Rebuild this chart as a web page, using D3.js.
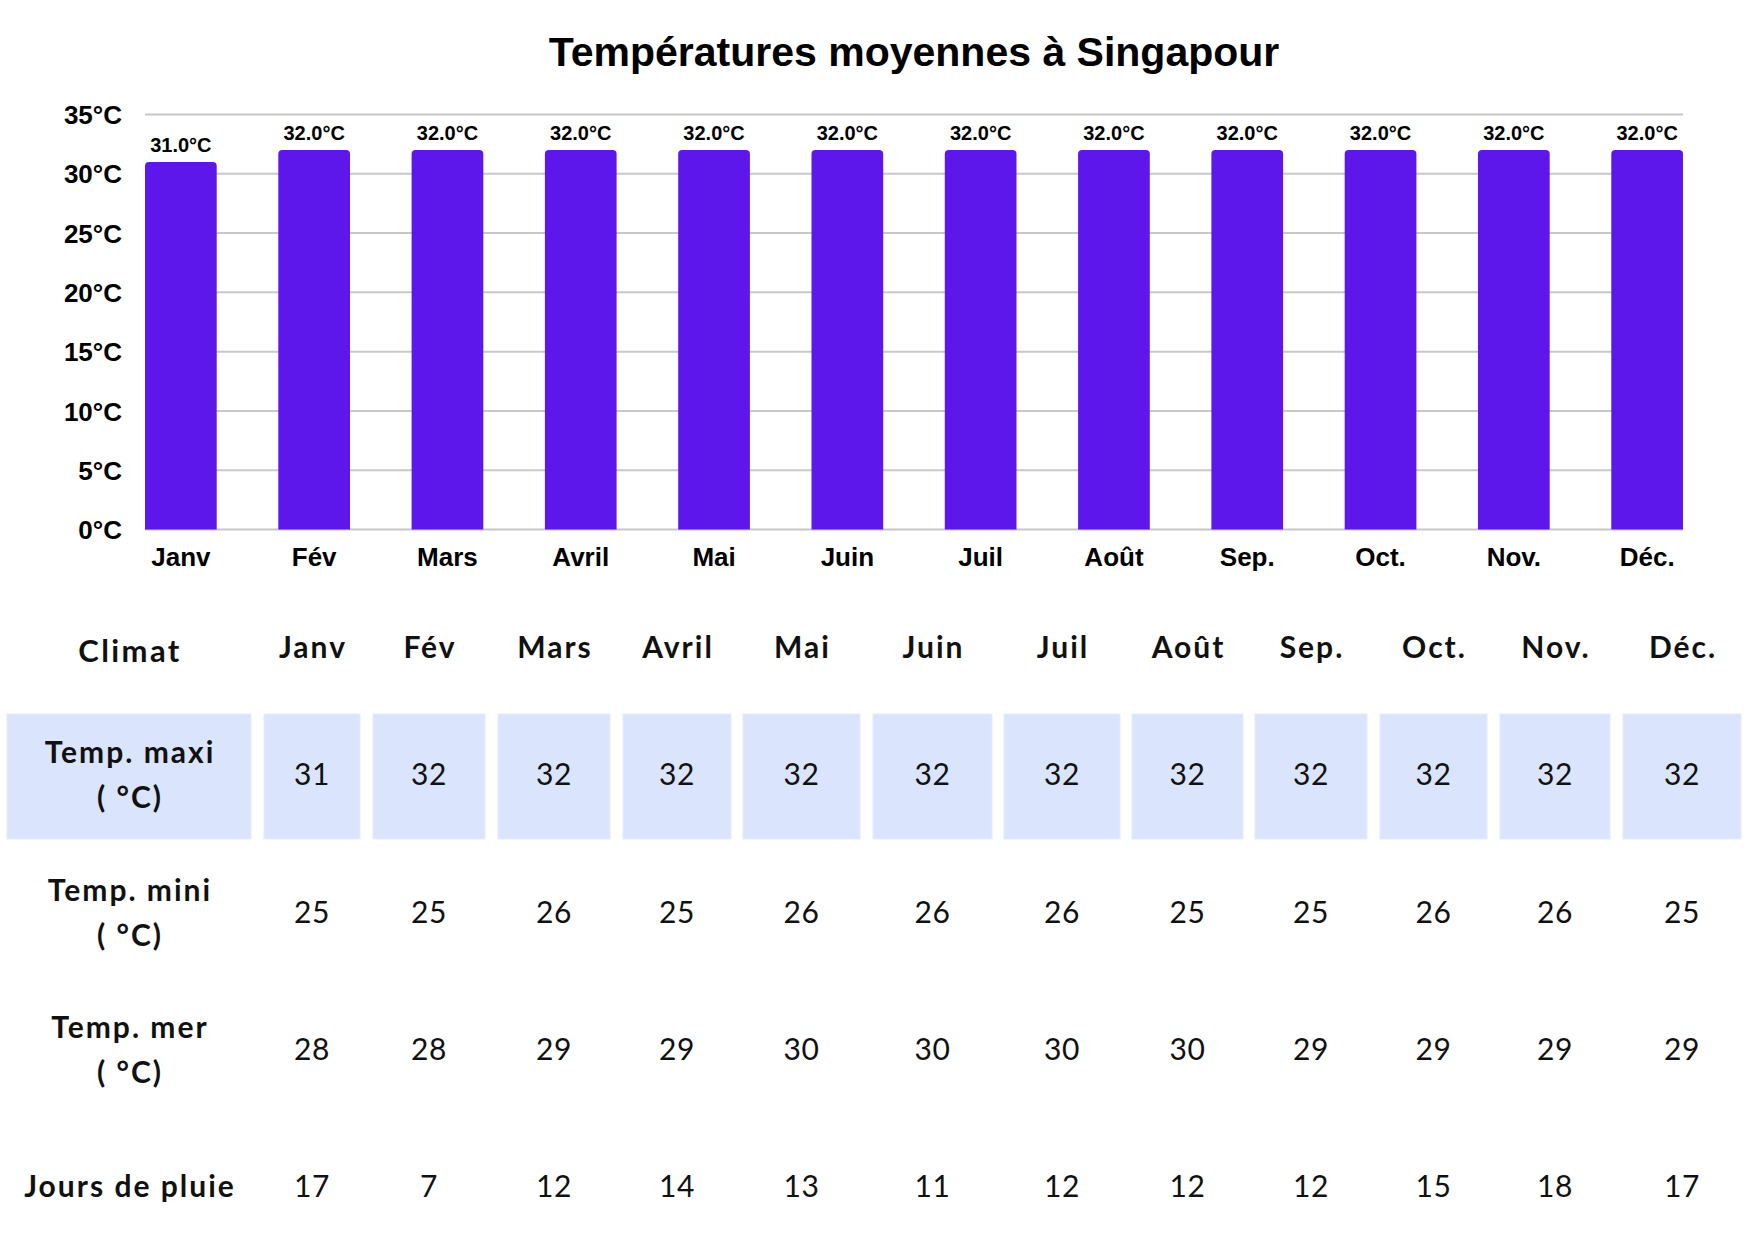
<!DOCTYPE html>
<html><head><meta charset="utf-8">
<script src="https://cdn.jsdelivr.net/npm/d3@7"></script>
<style>body{margin:0;background:#fff}svg{display:block}</style>
</head><body><svg id="c" width="1748" height="1240"></svg>
<script>
// ---- data ----
const months = ["Janv","Fév","Mars","Avril","Mai","Juin","Juil","Août","Sep.","Oct.","Nov.","Déc."];
const maxTemps = [31,32,32,32,32,32,32,32,32,32,32,32];
const minTemps = [25,25,26,25,26,26,26,25,25,26,26,25];
const seaTemps = [28,28,29,29,30,30,30,30,29,29,29,29];
const rainDays = [17,7,12,14,13,11,12,12,12,15,18,17];
const yTicks = [0,5,10,15,20,25,30,35];
const title = "Températures moyennes à Singapour";
const tableHeader = "Climat";
const rowLabels = [["Temp. maxi","( °C)"],["Temp. mini","( °C)"],["Temp. mer","( °C)"],["Jours de pluie"]];
const tableRows = [maxTemps, minTemps, seaTemps, rainDays];

// ---- layout ----
const svg = d3.select("#c");
const chartFont = "'Liberation Sans', Arial, sans-serif";
const tableFont = "Lato, 'Open Sans', sans-serif";
const plot = {left:145, right:1683, top:114.5, bottom:529.5};

const x = d3.scaleBand().domain(months).range([plot.left, plot.right]).paddingInner(0.462).paddingOuter(0);
const y = d3.scaleLinear().domain([0,35]).range([plot.bottom, plot.top]);

svg.append("text").attr("x",(plot.left+plot.right)/2).attr("y",66)
  .attr("text-anchor","middle").attr("font-family",chartFont).attr("font-weight","bold")
  .attr("font-size",41).attr("fill","#000").text(title);

// gridlines
svg.append("g").selectAll("line").data(yTicks).join("line")
  .attr("x1",plot.left).attr("x2",plot.right)
  .attr("y1",d=>y(d)).attr("y2",d=>y(d))
  .attr("stroke","#c8c8c8").attr("stroke-width",2);

// y axis labels
const yAxis = d3.axisLeft(y).tickValues(yTicks).tickSize(0).tickPadding(0).tickFormat(d=>d+"°C");
const yg = svg.append("g").attr("transform",`translate(${plot.left-23},0)`).call(yAxis);
yg.select(".domain").remove();
yg.selectAll("text").attr("font-family",chartFont).attr("font-weight","bold").attr("font-size",26).attr("fill","#000").attr("dy","0.35em");

// bars
const r = 4;
function barPath(x0,w,yt,yb){
  return `M${x0},${yb}V${yt+r}Q${x0},${yt} ${x0+r},${yt}H${x0+w-r}Q${x0+w},${yt} ${x0+w},${yt+r}V${yb}Z`;
}
svg.append("g").selectAll("path").data(months).join("path")
  .attr("d",(m,i)=>barPath(x(m),x.bandwidth(),y(maxTemps[i]),y(0)))
  .attr("fill","#5e17eb");

svg.append("g").selectAll("text").data(months).join("text")
  .attr("x",m=>x(m)+x.bandwidth()/2).attr("y",(m,i)=>y(maxTemps[i])-10)
  .attr("text-anchor","middle").attr("font-family",chartFont).attr("font-weight","bold")
  .attr("font-size",20).attr("fill","#000").text((m,i)=>maxTemps[i].toFixed(1)+"°C");

// x axis labels
const xAxis = d3.axisBottom(x).tickSize(0).tickPadding(0);
const xg = svg.append("g").attr("transform",`translate(0,${plot.bottom})`).call(xAxis);
xg.select(".domain").remove();
xg.selectAll("text").attr("font-family",chartFont).attr("font-weight","bold").attr("font-size",26).attr("fill","#000").attr("dy",0).attr("y",36);

// ---- table ----
const colLeft = [7,264,373,498,623,743,873,1004,1132,1255,1380,1500,1623];
const colRight = [251,360,485,610,731,860,992,1120,1243,1367,1487,1610,1741];
const colCenter = colLeft.map((l,i)=>(l+colRight[i])/2);
const rowBase = [785,923,1060,1197];
const highlight = {top:714, bottom:839};
const boldSpacing = 2;

const tg = svg.append("g");
// highlight row
tg.selectAll("rect").data(colLeft).join("rect")
  .attr("x",d=>d).attr("y",highlight.top)
  .attr("width",(d,i)=>colRight[i]-d).attr("height",highlight.bottom-highlight.top)
  .attr("fill","#dbe4fd").attr("stroke","#e6ecfd").attr("stroke-width",1);

// header
tg.append("text").attr("x",colCenter[0]+boldSpacing/2).attr("y",662).attr("text-anchor","middle")
  .attr("font-family",tableFont).attr("font-weight","bold").attr("font-size",31)
  .attr("letter-spacing",boldSpacing+0.4).attr("fill","#111").text(tableHeader);
tg.append("g").selectAll("text").data(months).join("text")
  .attr("x",(m,i)=>colCenter[i+1]+boldSpacing/2).attr("y",658).attr("text-anchor","middle")
  .attr("font-family",tableFont).attr("font-weight","bold").attr("font-size",30)
  .attr("letter-spacing",boldSpacing).attr("fill","#111").text(m=>m);

// row labels
rowLabels.forEach((lines,ri)=>{
  const t = tg.append("text").attr("text-anchor","middle").attr("font-family",tableFont)
    .attr("font-weight","bold").attr("font-size",30).attr("letter-spacing",boldSpacing).attr("fill","#111");
  const base = lines.length>1 ? rowBase[ri]-22 : rowBase[ri];
  lines.forEach((ln,li)=>{
    t.append("tspan").attr("x",colCenter[0]+boldSpacing/2).attr("y",base+li*45).text(ln);
  });
});

// values
tableRows.forEach((vals,ri)=>{
  tg.append("g").selectAll("text").data(vals).join("text")
    .attr("x",(v,i)=>colCenter[i+1]).attr("y",rowBase[ri]).attr("text-anchor","middle")
    .attr("font-family",tableFont).attr("font-size",30).attr("letter-spacing",0.5).attr("fill","#111").text(v=>v);
});
</script></body></html>
